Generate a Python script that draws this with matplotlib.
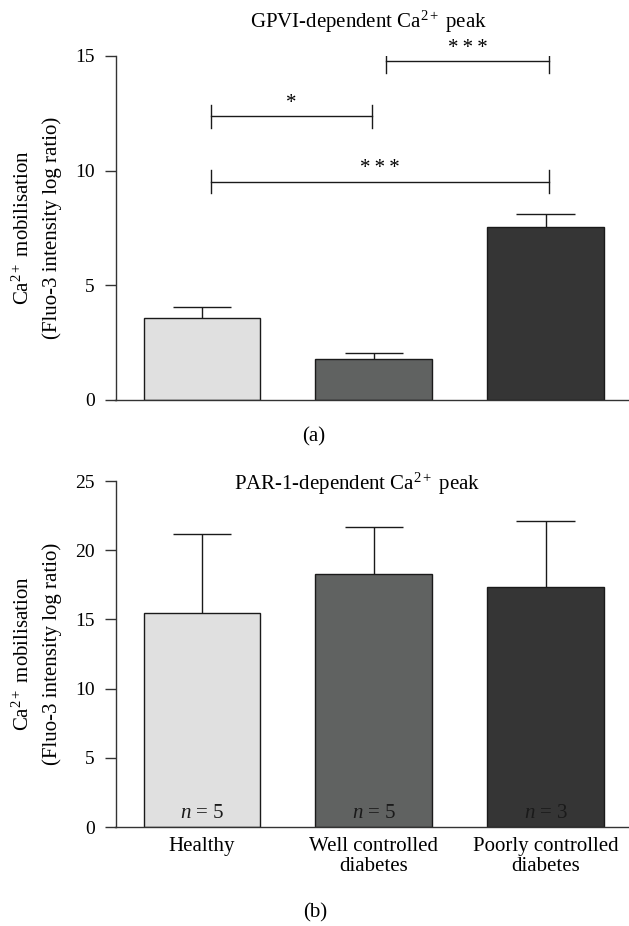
import matplotlib
matplotlib.use("Agg")
import matplotlib.pyplot as plt
import numpy as np

plt.rcParams['font.family'] = ['Liberation Serif', 'DejaVu Serif']
plt.rcParams['mathtext.fontset'] = 'custom'
plt.rcParams['mathtext.rm'] = 'Liberation Serif'
plt.rcParams['mathtext.it'] = 'Liberation Serif:italic'

# ---- data ----
categories = ["Healthy", "Well controlled\ndiabetes", "Poorly controlled\ndiabetes"]
colors = ["#e0e0e0", "#606261", "#353535"]

gpvi_mean = [3.59, 1.77, 7.56]
gpvi_err = [0.48, 0.26, 0.56]

par1_mean = [15.46, 18.3, 17.32]
par1_err = [5.71, 3.35, 4.79]

n_labels = ["5", "5", "3"]

# significance brackets for panel (a)
sig_x1 = [0.05, 1.07, 0.05]
sig_x2 = [0.99, 2.02, 2.02]
sig_y = [12.37, 14.78, 9.52]
sig_lbl = ["*", "*\u2009*\u2009*", "*\u2009*\u2009*"]

W, H = 629, 926
fig = plt.figure(figsize=(W / 100, H / 100), dpi=100)

def px_axes(left, top, right, bottom):
    return fig.add_axes([left / W, 1 - bottom / H, (right - left) / W, (bottom - top) / H])

spine_col = "#333333"
fs = 15
tfs = 14

def style(ax, ymax, step):
    ax.set_xlim(-0.503, 2.485)
    ax.set_ylim(0, ymax)
    ax.spines['top'].set_visible(False)
    ax.spines['right'].set_visible(False)
    for s in ['left', 'bottom']:
        ax.spines[s].set_color(spine_col)
        ax.spines[s].set_linewidth(1.0)
    ax.set_yticks(np.arange(0, ymax + 0.1, step))
    ax.tick_params(axis='y', length=8, width=1.0, color=spine_col, pad=7, labelsize=tfs)
    ax.tick_params(axis='x', length=0, labelsize=fs, pad=7)

def draw_bars(ax, means, errs):
    x = np.arange(len(means))
    ax.bar(x, means, width=0.68, color=colors, edgecolor="#1a1a1a", linewidth=1.0, zorder=2)
    tops = np.array(means) + np.array(errs)
    ax.vlines(x, means, tops, color="#1a1a1a", linewidth=1.0, zorder=1)
    ax.hlines(tops, x - 0.17, x + 0.17, color="#1a1a1a", linewidth=1.0, zorder=1)
    return x

# ---- panel (a) ----
axa = px_axes(115.5, 56, 629, 400)
style(axa, 15, 5)
draw_bars(axa, gpvi_mean, gpvi_err)
axa.set_xticks([])
for x1, x2, y, lbl in zip(sig_x1, sig_x2, sig_y, sig_lbl):
    axa.plot([x1, x2], [y, y], color="#1a1a1a", lw=1.0)
    axa.plot([x1, x1], [y - 0.5, y + 0.5], color="#1a1a1a", lw=1.0)
    axa.plot([x2, x2], [y - 0.5, y + 0.5], color="#1a1a1a", lw=1.0)
    axa.text((x1 + x2) / 2, y + 0.15, lbl, ha='center', va='bottom', fontsize=15)

fig.text(369 / W, 1 - 22 / H, "GPVI-dependent Ca$^{2+}$ peak", ha='center', va='center', fontsize=fs)
fig.text(314 / W, 1 - 437 / H, "(a)", ha='center', va='center', fontsize=fs)

# ---- panel (b) ----
axb = px_axes(115.5, 481, 629, 827)
style(axb, 25, 5)
xb = draw_bars(axb, par1_mean, par1_err)
axb.set_xticks(xb)
axb.set_xticklabels(categories, fontsize=fs, linespacing=1.1)
for xi, n in zip(xb, n_labels):
    axb.text(xi, 0.3, "$n$ = " + n, ha='center', va='bottom', fontsize=fs, color="#1a1a1a")

fig.text(357 / W, 1 - 484 / H, "PAR-1-dependent Ca$^{2+}$ peak", ha='center', va='center', fontsize=fs)
fig.text(315 / W, 1 - 913 / H, "(b)", ha='center', va='center', fontsize=fs)

# ---- y labels ----
for cy in [228, 654]:
    fig.text(23 / W, 1 - cy / H, "Ca$^{2+}$ mobilisation", rotation=90, ha='center', va='center', fontsize=fs)
    fig.text(52 / W, 1 - cy / H, "(Fluo-3 intensity log ratio)", rotation=90, ha='center', va='center', fontsize=fs)

fig.savefig("out.png", dpi=100)
